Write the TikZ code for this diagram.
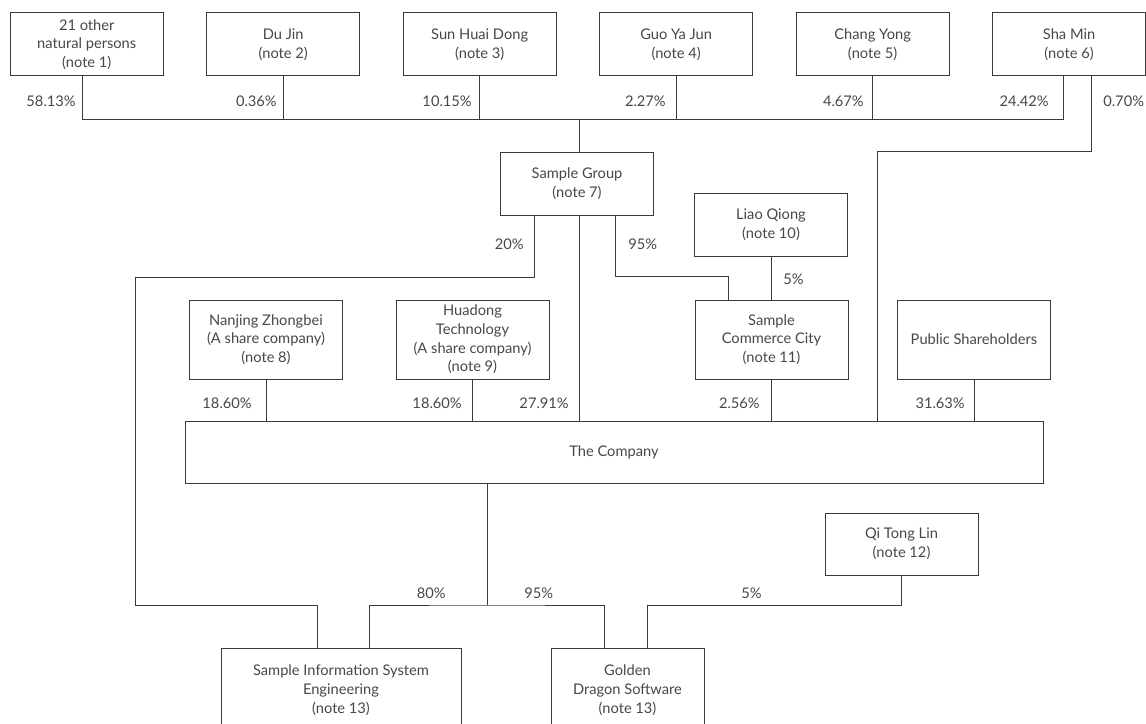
\documentclass[tikz,border=0pt]{standalone}
\usepackage{fontspec}
\setmainfont{Lato}
\usepackage{tikz}
\usetikzlibrary{calc,positioning}
\definecolor{linegrey}{HTML}{3A3A3A}
\definecolor{textgrey}{HTML}{474747}
\tikzset{box/.style={draw=linegrey,line width=0.75pt,text=textgrey,align=center,
  inner sep=1pt,minimum width=114.75pt,minimum height=47.25pt,
  font=\fontsize{11}{14}\selectfont},
  pct/.style={text=textgrey,inner sep=0pt,font=\fontsize{11}{14}\selectfont},
  link/.style={draw=linegrey,line width=0.75pt}}
\begin{document}
\begin{tikzpicture}[x=0.75pt,y=-0.75pt]
\useasboundingbox (0,0) rectangle (1146,724);
% shareholders on top
\node[box] (others) at (86.75,44.5) {21 other\\natural persons\\(note 1)};
\node[box,right=31.85pt of others] (dujin) {Du Jin\\(note 2)};
\node[box,right=31.85pt of dujin] (sun) {Sun Huai Dong\\(note 3)};
\node[box,right=31.85pt of sun] (guo) {Guo Ya Jun\\(note 4)};
\node[box,right=31.85pt of guo] (chang) {Chang Yong\\(note 5)};
\node[box,right=31.85pt of chang] (shamin) {Sha Min\\(note 6)};
% middle layer
\node[box] (group) at (577,184) {Sample Group\\(note 7)};
\node[box] (liao) at (771,224.5) {Liao Qiong\\(note 10)};
\node[box,minimum height=59.25pt] (nanjing) at (266,339.5) {Nanjing Zhongbei\\(A share company)\\(note 8)};
\node[box,minimum height=59.25pt] (huadong) at (472.5,339.5) {Huadong\\Technology\\(A share company)\\(note 9)};
\node[box,minimum height=59.25pt] (commerce) at (771.5,339.5) {Sample\\Commerce City\\(note 11)};
\node[box,minimum height=59.25pt] (public) at (974,339.5) {Public Shareholders};
\node[box,minimum width=643.5pt,minimum height=46.5pt] (company) at (614,452) {The Company};
% subsidiaries
\node[box,minimum height=46.5pt] (qitong) at (901.5,544) {Qi Tong Lin\\(note 12)};
\node[box,minimum width=180pt,minimum height=63pt] (sise) at (341,690) {Sample Information System\\Engineering\\(note 13)};
\node[box,minimum height=63pt] (golden) at (627.5,690) {Golden\\Dragon Software\\(note 13)};
% turning points
\coordinate (bus) at (579,119);
\coordinate (shaturn) at (877,151);
\coordinate (lturn) at (135,277);
\coordinate (lbus) at (135,605);
\coordinate (sbus) at (487,605);
% top bus
\draw[link] ([xshift=-3.2pt]others.south) |- ([xshift=-4pt]shamin.south |- bus) -- ([xshift=-4pt]shamin.south);
\foreach \n in {dujin,sun,guo,chang}
  \draw[link] (\n.south) -- (\n.south |- bus);
\draw[link] ([xshift=1.5pt]group.north |- bus) -- ([xshift=1.5pt]group.north);
\draw[link] ([xshift=16.5pt]shamin.south) |- (shaturn) -- (shaturn |- company.north);
% from the group
\draw[link] ([xshift=-32.25pt]group.south) |- (lturn) -- (lbus) -| ([xshift=-18pt]sise.north);
\draw[link] ([xshift=1.5pt]group.south) -- ([xshift=1.5pt]group.south |- company.north);
\draw[link] ([xshift=28.5pt]group.south) -- ++(0,60) -| ([xshift=-32.6pt]commerce.north);
\draw[link] (liao.south) -- (liao.south |- commerce.north);
% into the company
\foreach \n in {nanjing,huadong,commerce,public}
  \draw[link] (\n.south) -- (\n.south |- company.north);
% out of the company
\draw[link] ([xshift=21pt]sise.north) |- (sbus) -| ([xshift=-16.9pt]golden.north);
\draw[link] (sbus) -- (sbus |- company.south);
\draw[link] (qitong.south) -- (qitong.south |- sbus) -| ([xshift=15pt]golden.north);
% percentages
\node[pct,anchor=east] (p1) at (76,101) {58.13\%};
\node[pct,anchor=east] (p2) at (277,101) {0.36\%};
\node[pct,anchor=east] (p3) at (472,101) {10.15\%};
\node[pct,anchor=east] (p4) at (666,101) {2.27\%};
\node[pct,anchor=east] (p5) at (864,101) {4.67\%};
\node[pct,anchor=east] (p6) at (1049,101) {24.42\%};
\node[pct,anchor=west] (p7) at (1103,101) {0.70\%};
\node[pct,anchor=east] (p8) at (524,244) {20\%};
\node[pct,anchor=west] (p9) at (628,244) {95\%};
\node[pct,anchor=west] (p10) at (783,279) {5\%};
\node[pct,anchor=east] (p11) at (252,403) {18.60\%};
\node[pct,anchor=east] (p12) at (462,403) {18.60\%};
\node[pct,anchor=east] (p13) at (569,403) {27.91\%};
\node[pct,anchor=east] (p14) at (760,403) {2.56\%};
\node[pct,anchor=east] (p15) at (965,403) {31.63\%};
\node[pct,anchor=east] (p16) at (446,593) {80\%};
\node[pct,anchor=west] (p17) at (524,593) {95\%};
\node[pct,anchor=west] (p18) at (741,593) {5\%};
\end{tikzpicture}
\end{document}
